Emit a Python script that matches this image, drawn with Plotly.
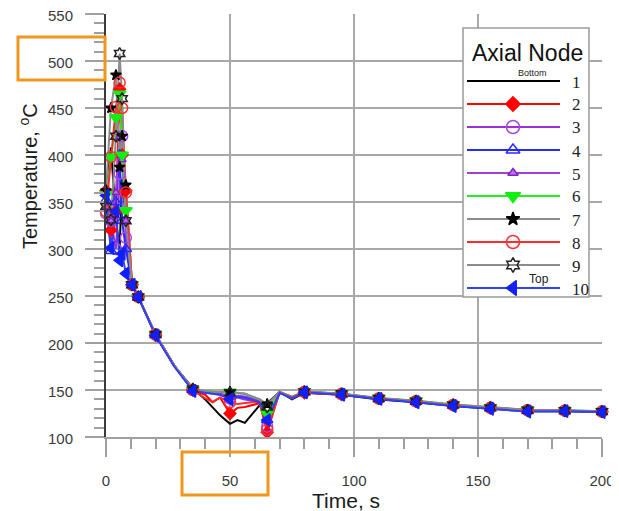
import plotly.graph_objects as go

# ---------------- data ----------------
time_s = [0, 2, 4, 5.5, 6.5, 8, 10.5, 13, 20, 27.5, 35, 40, 43, 46, 50, 53, 56, 62, 65,
          70, 75, 80, 95, 110, 125, 140, 155, 170, 185, 200]
marker_times = [0, 2, 4, 5.5, 6.5, 8, 10.5, 13, 20, 35, 50, 65, 80, 95, 110, 125, 140,
                155, 170, 185, 200]

node_labels = ["1", "2", "3", "4", "5", "6", "7", "8", "9", "10"]

node_1 = [362, 408, 330, 300, 375, 330, 262, 249, 208, 176, 152,
          140, 131, 123, 114, 118, 115, 134, 136, 148, 140,
          147, 145, 140, 137, 133, 130, 127.5, 127.5, 126.5]
node_2 = [362, 320, 340, 470, 400, 362, 262, 249, 208, 176, 150,
          145, 137, 142, 125, 131, 132, 136, 105, 148, 141,
          147, 145, 141, 138, 134, 131, 128, 128, 127]
node_3 = [338, 330, 300, 380, 420, 312, 262, 249, 209, 176, 150,
          147, 146, 145, 141, 142, 140, 137, 111, 147, 142,
          148, 146, 141, 138, 134, 131, 128.5, 128, 127]
node_4 = [352, 298, 350, 400, 330, 300, 262, 249, 209, 176, 150,
          148, 147, 146, 143, 143, 142, 138, 118, 147, 142,
          148, 145.5, 141, 138, 134, 131, 128.5, 128, 127]
node_5 = [345, 330, 360, 419, 395, 330, 262, 249, 209, 176, 150,
          148, 147, 146, 144, 144, 143, 139, 122, 147, 142,
          148, 145.5, 141, 138, 134, 131, 128.5, 128, 127]
node_6 = [358, 398, 440, 465, 400, 341, 262, 249, 209, 176, 150,
          149, 148, 148, 148, 147, 146, 140, 125, 148, 143,
          148.5, 146, 141.5, 138.5, 134.5, 131.5, 129, 128.5, 127.5]
node_7 = [362, 450, 485, 387, 420, 368, 262, 249, 209, 176, 151,
          149, 148, 148, 148, 147, 146, 140, 135, 148, 143,
          148.5, 146, 141.5, 138.5, 134.5, 131.5, 129, 128.5, 127.5]
node_8 = [340, 398, 451, 477, 450, 360, 262, 249, 209, 176, 150,
          141, 137, 142, 137, 135, 136, 138, 108, 148, 142,
          148, 145.5, 141, 138, 134, 131, 128.5, 128, 127]
node_9 = [345, 331, 420, 508, 460, 330, 262, 249, 209, 176, 151,
          149, 148, 148, 147, 147, 146, 140, 132, 148, 141,
          148, 146, 141, 138, 134, 131, 128.5, 128, 127]
node_10 = [357, 301, 340, 288, 295, 274, 262, 249, 208, 175, 149,
           147, 146, 145, 140, 143, 142, 137, 118, 147, 141,
           147.5, 145, 140.5, 137, 133, 130, 127, 127.5, 126.5]

series = [node_1, node_2, node_3, node_4, node_5, node_6, node_7, node_8, node_9, node_10]

x_tick_vals = [0, 50, 100, 150, 200]
y_tick_vals = [100, 150, 200, 250, 300, 350, 400, 450, 500, 550]

# ---------------- styles ----------------
styles = [
    dict(line="#000000", symbol=None, mcolor=None, mline=None, size=0),
    dict(line="#ff0000", symbol="diamond", mcolor="#ff0000", mline="#ff0000", size=10),
    dict(line="#9b30d8", symbol="circle-open", mcolor="#a845e8", mline="#a845e8", size=12),
    dict(line="#2a2aff", symbol="triangle-up-open", mcolor="#2a2aff", mline="#2a2aff", size=11),
    dict(line="#a040d8", symbol="triangle-up", mcolor="#b878e8", mline="#8a20c8", size=8),
    dict(line="#22ee22", symbol="triangle-down", mcolor="#11ee11", mline="#11ee11", size=12),
    dict(line="#8c8c8c", symbol="star", mcolor="#000000", mline="#000000", size=9),
    dict(line="#ff2a2a", symbol="circle-open", mcolor="#ff3030", mline="#ff3030", size=12),
    dict(line="#8c8c8c", symbol="hexagram-open", mcolor="#222222", mline="#222222", size=10),
    dict(line="#3040ff", symbol="triangle-left", mcolor="#1020ff", mline="#1020ff", size=12),
]

# target geometry in screen pixels (page is shown with an 8px body margin)
OFF = 8
W, H = 619, 511
PL, PR, PT, PB = 106, 602, 14, 437
XR = [0, 200]
YR = [100, 550]


def px2x(px):
    return XR[0] + (px - PL) / (PR - PL) * (XR[1] - XR[0])


def py2y(py):
    return YR[1] - (py - PT) / (PB - PT) * (YR[1] - YR[0])


def px2paper(px):
    return (px - PL) / (PR - PL)


def py2paper(py):
    return (PB - py) / (PB - PT)


fig = go.Figure()
mset = set(marker_times)

for vals, st, name in zip(series, styles, node_labels):
    fig.add_trace(go.Scatter(x=time_s, y=vals, mode="lines", name=name,
                             line=dict(color=st["line"], width=2),
                             showlegend=False, hoverinfo="skip", cliponaxis=False))
for vals, st, name in zip(series, styles, node_labels):
    if st["symbol"] is None:
        continue
    mx = [t for t in time_s if t in mset]
    my = [v for t, v in zip(time_s, vals) if t in mset]
    fig.add_trace(go.Scatter(x=mx, y=my, mode="markers", name=name,
                             marker=dict(symbol=st["symbol"], size=st["size"] - 1,
                                         color=st["mcolor"],
                                         line=dict(color=st["mline"], width=1.5)),
                             showlegend=False, cliponaxis=False))

# ---------------- custom legend ----------------
LEG_X0, LEG_X1, LEG_Y0, LEG_Y1 = 463, 589, 28, 297
ROW0, ROW_STEP = 81, 23
LINE_X0, LINE_X1, MARK_X = 467, 560, 513

shapes = [dict(type="rect", xref="x", yref="y", layer="between",
               x0=px2x(LEG_X0), x1=px2x(LEG_X1), y0=py2y(LEG_Y1), y1=py2y(LEG_Y0),
               fillcolor="white", line=dict(color="#9a9a9a", width=1.5))]
annotations = []
for i, (st, name) in enumerate(zip(styles, node_labels)):
    ry = py2y(ROW0 + i * ROW_STEP)
    fig.add_trace(go.Scatter(x=[px2x(LINE_X0), px2x(LINE_X1)], y=[ry, ry], mode="lines",
                             line=dict(color=st["line"], width=2),
                             showlegend=False, hoverinfo="skip"))
    if st["symbol"] is not None:
        fig.add_trace(go.Scatter(x=[px2x(MARK_X)], y=[ry], mode="markers",
                                 marker=dict(symbol=st["symbol"], size=st["size"] + 1,
                                             color=st["mcolor"],
                                             line=dict(color=st["mline"], width=1.5)),
                                 showlegend=False, hoverinfo="skip"))
    annotations.append(dict(x=px2paper(570), y=py2paper(ROW0 + i * ROW_STEP + 1),
                            xref="paper", yref="paper", text=name, showarrow=False,
                            xanchor="left", yanchor="middle",
                            font=dict(family="Liberation Serif, Times New Roman, serif",
                                      size=17, color="#222222")))

annotations.append(dict(x=px2paper(527), y=py2paper(53), xref="paper", yref="paper",
                        text="Axial Node", showarrow=False, xanchor="center",
                        yanchor="middle",
                        font=dict(family="Liberation Sans, Arial", size=23, color="#111111")))
annotations.append(dict(x=px2paper(532), y=py2paper(73), xref="paper", yref="paper",
                        text="Bottom", showarrow=False, xanchor="center", yanchor="middle",
                        font=dict(family="Liberation Sans, Arial", size=9, color="#222222")))
annotations.append(dict(x=px2paper(539), y=py2paper(279), xref="paper", yref="paper",
                        text="Top", showarrow=False, xanchor="center", yanchor="middle",
                        font=dict(family="Liberation Sans, Arial", size=12, color="#222222")))

# axis titles
annotations.append(dict(x=px2paper(28), y=py2paper(176), xref="paper", yref="paper",
                        text="Temperature, <sup>o</sup>C", showarrow=False, textangle=-90,
                        xanchor="center", yanchor="middle",
                        font=dict(family="Liberation Sans, Arial", size=20, color="#1a1a1a")))
annotations.append(dict(x=px2paper(346), y=py2paper(500), xref="paper", yref="paper",
                        text="Time, s", showarrow=False, xanchor="center", yanchor="middle",
                        font=dict(family="Liberation Sans, Arial", size=21, color="#1a1a1a")))

# orange highlight boxes
ORANGE = "#F0961E"
shapes.append(dict(type="rect", xref="paper", yref="paper", layer="above",
                   x0=px2paper(18), x1=px2paper(105), y0=py2paper(80), y1=py2paper(37),
                   line=dict(color=ORANGE, width=3)))
shapes.append(dict(type="rect", xref="paper", yref="paper", layer="above",
                   x0=px2paper(182), x1=px2paper(268), y0=py2paper(495), y1=py2paper(452),
                   line=dict(color=ORANGE, width=3)))

tickfont = dict(family="Liberation Sans, Arial", size=15, color="#3a3a3a")
fig.update_layout(
    width=W, height=H,
    margin=dict(l=PL - OFF, r=W - (PR - OFF), t=PT - OFF, b=H - (PB - OFF), pad=0),
    plot_bgcolor="white", paper_bgcolor="white",
    showlegend=False,
    shapes=shapes, annotations=annotations,
    xaxis=dict(range=XR, tickvals=x_tick_vals, showgrid=True, gridcolor="#a8a8a8",
               gridwidth=2, ticks="outside", ticklen=18, tickwidth=2, tickcolor="#a0a0a0",
               showline=True, linecolor="#a0a0a0", linewidth=2, zeroline=False,
               automargin=False, tickfont=tickfont, ticklabelstandoff=11,
               ticklabeloverflow="allow",
               minor=dict(dtick=10, ticks="outside", ticklen=10, tickwidth=1.5,
                          tickcolor="#a0a0a0", showgrid=False)),
    yaxis=dict(range=YR, tickvals=y_tick_vals, showgrid=True, gridcolor="#a8a8a8",
               gridwidth=2, ticks="outside", ticklen=19, tickwidth=2, tickcolor="#a0a0a0",
               showline=True, linecolor="#3a3a3a", linewidth=2, zeroline=False,
               automargin=False, tickfont=tickfont, ticklabelstandoff=9,
               ticklabelshift=2, ticklabeloverflow="allow",
               minor=dict(dtick=10, ticks="outside", ticklen=10, tickwidth=1.5,
                          tickcolor="#a0a0a0", showgrid=False)),
)

fig.write_html("out.html")
